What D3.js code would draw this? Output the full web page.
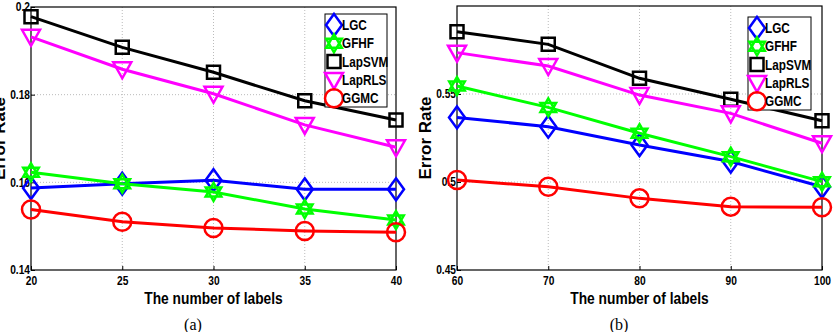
<!DOCTYPE html>
<html>
<head>
<meta charset="utf-8">
<script src="https://cdn.jsdelivr.net/npm/d3@7"></script>
<style>
  body { margin: 0; background: #fff; }
  svg { display: block; }
  .tick text { font-family: "Liberation Sans", Arial, sans-serif; font-weight: bold; font-size: 12px; }
</style>
</head>
<body>
<div id="chart"></div>
<script>
var svgWidth = 834;
var svgHeight = 332;

// methods and colours
var methods = ["LGC", "GFHF", "LapSVM", "LapRLS", "GGMC"];
var colors = ["#0000ff", "#00ff00", "#000000", "#ff00ff", "#ff0000"];
var markers = ["diamond", "hexagram", "square", "triangle", "circle"];

// panel (a)
var labelsA = [20, 25, 30, 35, 40];
var lgcA = [0.1587, 0.1597, 0.1605, 0.1584, 0.1584];
var gfhfA = [0.1623, 0.1597, 0.1578, 0.1539, 0.1514];
var lapsvmA = [0.1978, 0.1908, 0.1851, 0.1786, 0.1742];
var laprlsA = [0.1932, 0.1858, 0.1802, 0.1731, 0.1680];
var ggmcA = [0.1538, 0.1510, 0.1496, 0.1489, 0.1486];
var yTicksA = [0.14, 0.16, 0.18, 0.2];

// panel (b)
var labelsB = [60, 70, 80, 90, 100];
var lgcB = [0.5367, 0.5314, 0.5210, 0.5116, 0.4973];
var gfhfB = [0.5545, 0.5424, 0.5277, 0.5144, 0.5002];
var lapsvmB = [0.5854, 0.5782, 0.5589, 0.5470, 0.5348];
var laprlsB = [0.5735, 0.5659, 0.5494, 0.5390, 0.5220];
var ggmcB = [0.5011, 0.4973, 0.4907, 0.4860, 0.4856];
var yTicksB = [0.45, 0.5, 0.55];

var narrow = "'Liberation Sans', Arial, sans-serif";

var svg = d3.select("#chart")
  .append("svg")
  .attr("width", svgWidth)
  .attr("height", svgHeight);

// squeeze text horizontally, like the narrow matlab font
function condense(sel, f) {
  sel.each(function() {
    var w = this.getComputedTextLength();
    d3.select(this)
      .attr("textLength", w * f)
      .attr("lengthAdjust", "spacingAndGlyphs");
  });
}

// marker paths
function markerPath(type) {
  if (type === "diamond") {
    return "M0,-11 L8,0 L0,11 L-8,0 Z";
  }
  if (type === "square") {
    return "M-6.5,-6.5 L6.5,-6.5 L6.5,6.5 L-6.5,6.5 Z";
  }
  if (type === "triangle") {
    return "M-9,-7 L9,-7 L0,9 Z";
  }
  if (type === "hexagram") {
    var r = 9, p1 = [], p2 = [];
    for (var i = 0; i < 3; i++) {
      var a1 = -Math.PI / 2 + i * 2 * Math.PI / 3;
      var a2 = Math.PI / 2 + i * 2 * Math.PI / 3;
      p1.push([r * Math.cos(a1), r * Math.sin(a1)]);
      p2.push([r * Math.cos(a2), r * Math.sin(a2)]);
    }
    return "M" + p1.join("L") + "Z M" + p2.join("L") + "Z";
  }
  // circle
  return "M9,0 A9,9 0 1,1 -9,0 A9,9 0 1,1 9,0 Z";
}

function drawPanel(opt) {
  var g = svg.append("g");

  var x = d3.scaleLinear()
    .domain(d3.extent(opt.labels))
    .range([opt.left, opt.right]);

  var y = d3.scaleLinear()
    .domain(opt.yDomain)
    .range([opt.bottom, opt.top]);

  // grid
  g.append("g").selectAll("line")
    .data(opt.labels.slice(1, -1))
    .enter().append("line")
    .attr("x1", d => x(d)).attr("x2", d => x(d))
    .attr("y1", opt.top).attr("y2", opt.bottom)
    .attr("stroke", "#bbb").attr("stroke-dasharray", "1,2");

  g.append("g").selectAll("line")
    .data(opt.yTicks.filter(d => d > opt.yDomain[0] && d < opt.yDomain[1]))
    .enter().append("line")
    .attr("x1", opt.left).attr("x2", opt.right)
    .attr("y1", d => y(d)).attr("y2", d => y(d))
    .attr("stroke", "#bbb").attr("stroke-dasharray", "1,2");

  // axes
  var bottomAxis = d3.axisBottom(x).tickValues(opt.labels).tickSizeInner(-4).tickSizeOuter(0).tickPadding(6);
  var leftAxis = d3.axisLeft(y).tickValues(opt.yTicks).tickSizeInner(-4).tickSizeOuter(0).tickPadding(1)
    .tickFormat(d3.format("~g"));

  g.append("g")
    .attr("transform", `translate(0, ${opt.bottom})`)
    .call(bottomAxis)
    .call(a => a.select(".domain").remove());

  g.append("g")
    .attr("transform", `translate(${opt.left}, 0)`)
    .call(leftAxis)
    .call(a => a.select(".domain").remove());

  g.selectAll(".tick line").attr("stroke", "#000");
  g.selectAll(".tick text").attr("fill", "#000").call(condense, 0.85);

  // box
  g.append("rect")
    .attr("x", opt.left).attr("y", opt.top)
    .attr("width", opt.right - opt.left).attr("height", opt.bottom - opt.top)
    .attr("fill", "none").attr("stroke", "#000").attr("stroke-width", 1.2);

  // series
  var line = d3.line()
    .x((d, i) => x(opt.labels[i]))
    .y(d => y(d));

  opt.series.forEach(function(vals, k) {
    g.append("path")
      .datum(vals)
      .attr("d", line)
      .attr("fill", "none")
      .attr("stroke", colors[k])
      .attr("stroke-width", 3);

    g.selectAll(".m" + k)
      .data(vals)
      .enter().append("path")
      .attr("class", "m" + k)
      .attr("transform", (d, i) => `translate(${x(opt.labels[i])}, ${y(d)})`)
      .attr("d", markerPath(markers[k]))
      .attr("fill", "none")
      .attr("stroke", colors[k])
      .attr("stroke-width", 2.5);
  });

  // legend
  var leg = g.append("g");
  leg.append("rect")
    .attr("x", opt.legX).attr("y", opt.legY)
    .attr("width", opt.legW).attr("height", 93)
    .attr("fill", "#fff").attr("stroke", "#000").attr("stroke-width", 1);

  methods.forEach(function(m, k) {
    var cy = opt.legY + 11 + k * 18.3;
    leg.append("path")
      .attr("transform", `translate(${opt.legX + 9}, ${cy})`)
      .attr("d", markerPath(markers[k]))
      .attr("fill", "none")
      .attr("stroke", colors[k])
      .attr("stroke-width", 2.5);
    leg.append("text")
      .attr("x", opt.legX + 17)
      .attr("y", cy + 5)
      .style("font-family", narrow)
      .style("font-weight", "bold")
      .style("font-size", "14px")
      .text(m)
      .call(condense, 0.84);
  });

  // axis labels
  g.append("text")
    .attr("x", (opt.left + opt.right) / 2)
    .attr("y", opt.bottom + 33.5)
    .attr("text-anchor", "middle")
    .style("font-family", narrow)
    .style("font-weight", "bold")
    .style("font-size", "16px")
    .text("The number of labels")
    .call(condense, 0.86);

  g.append("text")
    .attr("transform", `translate(${opt.yLabX}, ${(opt.top + opt.bottom) / 2}) rotate(-90)`)
    .attr("text-anchor", "middle")
    .style("font-family", "'Liberation Sans', Arial, sans-serif")
    .style("font-weight", "bold")
    .style("font-size", "17px")
    .text("Error Rate");

  g.append("text")
    .attr("x", opt.capX)
    .attr("y", 330)
    .attr("text-anchor", "middle")
    .style("font-family", "'Liberation Serif', 'Times New Roman', serif")
    .style("font-size", "16px")
    .text(opt.caption);
}

drawPanel({
  labels: labelsA,
  series: [lgcA, gfhfA, lapsvmA, laprlsA, ggmcA],
  yDomain: [0.14, 0.2],
  yTicks: yTicksA,
  left: 31, right: 396, top: 7, bottom: 270,
  legX: 325, legY: 14, legW: 62,
  yLabX: 5,
  capX: 193, caption: "(a)"
});

drawPanel({
  labels: labelsB,
  series: [lgcB, gfhfB, lapsvmB, laprlsB, ggmcB],
  yDomain: [0.45, 0.6],
  yTicks: yTicksB,
  left: 457, right: 822, top: 6, bottom: 270,
  legX: 748, legY: 17, legW: 63,
  yLabX: 431,
  capX: 619, caption: "(b)"
});
</script>
</body>
</html>
